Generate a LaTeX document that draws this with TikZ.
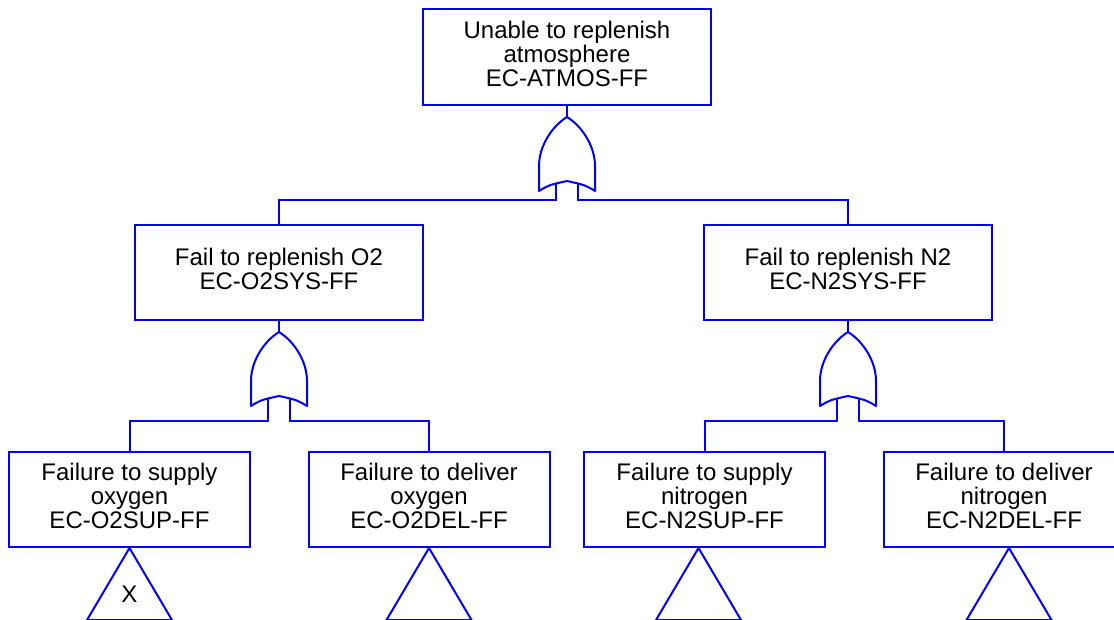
\documentclass[tikz,border=0pt]{standalone}
\usepackage{fontspec}
\setmainfont{Liberation Sans}
\begin{document}
\begin{tikzpicture}[
  x=0.5pt, y=-0.5pt,
  ftline/.style = {draw=blue, line width=1pt},
  ftlbl/.style = {font=\fontsize{12}{12}\selectfont},
  ftevent/.style = {ftline, ftlbl, align=center, inner sep=0pt, text depth=3.5pt, minimum width=144pt, minimum height=47.5pt},
  ftbasic/.style = {ftevent, minimum width=120.5pt},
  orgate/.pic = {
    \coordinate (-top) at (0,0);
    \coordinate (-inl) at (-11,66);
    \coordinate (-inr) at (11,66);
    \draw[ftline, line join=round] (0,0) .. controls (16,10) and (28,30) .. (28,49) -- (28,74)
      .. controls (18,68) .. (0,64) .. controls (-18,68) .. (-28,74) -- (-28,49)
      .. controls (-28,30) and (-16,10) .. cycle;
  }
]
  \useasboundingbox (0,0) rectangle (1114,620);
  % top event
  \node[ftevent, minimum height=48pt] (atmos) at (567,57) {Unable to replenish\\atmosphere\\EC-ATMOS-FF};
  \pic (g0) at (567,117) {orgate};
  \draw[ftline] (atmos.south) -- (g0-top);
  % O2 and N2 branches
  \node[ftevent] (o2sys) at (279,272.5) {Fail to replenish O2\\EC-O2SYS-FF};
  \node[ftevent] (n2sys) at (848,272.5) {Fail to replenish N2\\EC-N2SYS-FF};
  \draw[ftline] (g0-inl) -- ++(0,17) -| (o2sys.north);
  \draw[ftline] (g0-inr) -- ++(0,17) -| (n2sys.north);
  \pic (g1) at (279,332) {orgate};
  \pic (g2) at (848,332) {orgate};
  \draw[ftline] (o2sys.south) -- (g1-top);
  \draw[ftline] (n2sys.south) -- (g2-top);
  % undeveloped events
  \node[ftbasic] (o2sup) at (129.5,499.5) {Failure to supply\\oxygen\\EC-O2SUP-FF};
  \node[ftbasic] (o2del) at (429,499.5) {Failure to deliver\\oxygen\\EC-O2DEL-FF};
  \node[ftbasic] (n2sup) at (704.5,499.5) {Failure to supply\\nitrogen\\EC-N2SUP-FF};
  \node[ftbasic] (n2del) at (1004,499.5) {Failure to deliver\\nitrogen\\EC-N2DEL-FF};
  \draw[ftline] (g1-inl) -- ++(0,23) -| (o2sup.north);
  \draw[ftline] (g1-inr) -- ++(0,23) -| (o2del.north);
  \draw[ftline] (g2-inl) -- ++(0,23) -| (n2sup.north);
  \draw[ftline] (g2-inr) -- ++(0,23) -| (n2del.north);
  % transfer triangles
  \foreach \ev/\dx in {o2sup/0, o2del/0, n2sup/-3, n2del/2.5}
    \draw[ftline] ([xshift=\dx pt]\ev.south) -- ++(42.5,72) -- ++(-85,0) -- cycle;
  \node[ftlbl] (o2supx) at ([yshift=-23pt]o2sup.south) {X};
\end{tikzpicture}
\end{document}
